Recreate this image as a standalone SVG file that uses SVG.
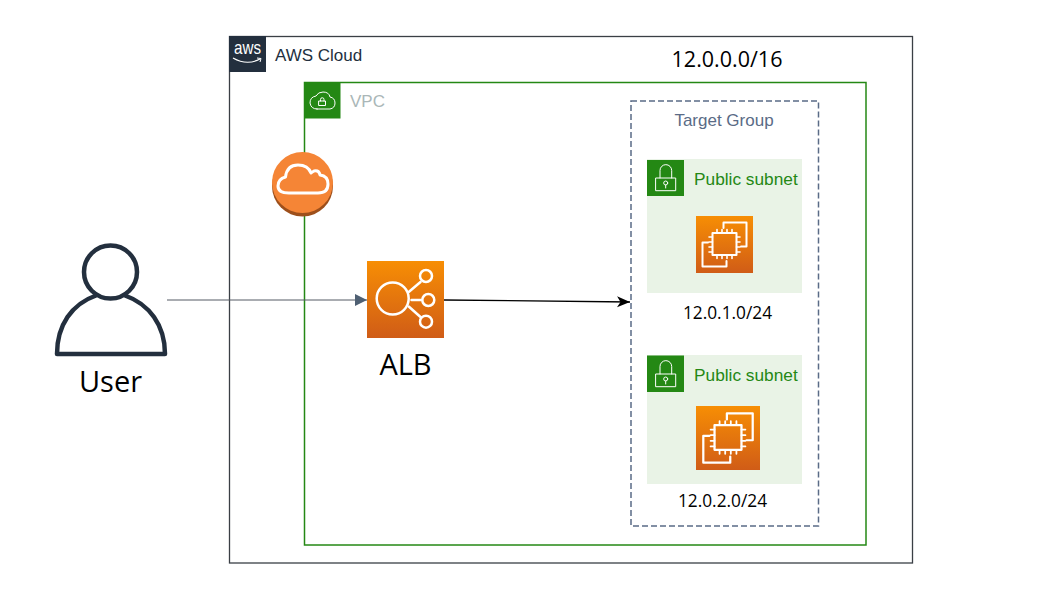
<svg xmlns="http://www.w3.org/2000/svg" width="1041" height="600" viewBox="0 0 1041 600">
<style>
.o{font-family:"Open Sans","Noto Sans",sans-serif;fill:#000}
.l{font-family:"Liberation Sans",Arial,sans-serif}
.w{fill:none;stroke:#fff;stroke-linejoin:round;stroke-linecap:round}
.tile{fill:#248814}
.sub{fill:#e9f3e6}
.gt{fill:#248814;font-size:17.300px}
</style>
<defs>
<linearGradient id="og" x1="0" y1="0" x2="0" y2="1"><stop offset="0" stop-color="#f78e04"/><stop offset="1" stop-color="#d05c17"/></linearGradient>
<g id="chip" class="w">
<rect x="16.500" y="17" width="24" height="22" stroke-width="2"/>
<path d="M21 17v-3.500M26 17v-3.500M31 17v-3.500M36 17v-3.500M21 39v3.500M26 39v3.500M31 39v3.500M36 39v3.500M16.500 21h-3.500M16.500 26h-3.500M16.500 31h-3.500M16.500 36h-3.500M40.500 21h3.500M40.500 26h3.500M40.500 31h3.500M40.500 36h3.500" stroke-width="1.600"/>
<path d="M27.500 12V6.500H50.500V30.500H45" stroke-width="2"/>
<path d="M12 26.500H6.500V50.500H30.500V45" stroke-width="2"/>
</g>
<g id="lock" class="w" stroke-width="1">
<rect x="9" y="18" width="19.700" height="12.700"/>
<path d="M13 18V10.500a5.850 5.850 0 0 1 11.700 0V18"/>
<circle cx="18.700" cy="23" r="2"/>
<path d="M18.700 25V28"/>
</g>
<marker id="ah" markerWidth="13" markerHeight="12" refX="12" refY="6" orient="auto" markerUnits="userSpaceOnUse"><path d="M0 0L12 6L0 12Z" fill="#4f6073"/></marker>
<marker id="ab" markerWidth="13" markerHeight="12" refX="13" refY="6" orient="auto" markerUnits="userSpaceOnUse"><path d="M0 0.500L13 6L0 11.500L3.500 6Z" fill="#000"/></marker>
</defs>

<g id="aws-cloud">
<rect x="229.500" y="36.500" width="683" height="526.500" fill="#fff" stroke="#3a3f45" stroke-width="1.300"/>
<rect x="229" y="36" width="37" height="36" fill="#232f3e"/>
<text x="234" y="54" class="l" font-size="19" textLength="27" lengthAdjust="spacingAndGlyphs" fill="#fff">aws</text>
<path d="M233 58Q247 66 260 59" fill="none" stroke="#fff" stroke-width="1.200"/>
<path d="M257 58L261 58.500L260 62" fill="none" stroke="#fff" stroke-width="1"/>
<text x="275" y="61" class="l" font-size="17" fill="#232f3e">AWS Cloud</text>
</g>

<g id="vpc">
<rect x="304.500" y="82.500" width="561.500" height="462.500" fill="none" stroke="#248814" stroke-width="1.500"/>
<rect class="tile" x="304" y="82" width="36.500" height="36.500"/>
<path class="w" stroke-width="1" d="M317 109H330Q335 108 335 103Q335 98 330 97Q329 92 323 92Q318 92 316 96Q310 97 310 103Q311 109 317 109Z"/>
<rect x="319" y="101" width="6.500" height="4.500" class="w" stroke-width="1"/>
<path class="w" stroke-width="1" d="M320.500 101V99.500a1.750 1.750 0 0 1 3.500 0V101"/>
<text x="350" y="107" class="l" font-size="17" fill="#aab7b8">VPC</text>
</g>

<g id="internet-gateway">
<circle cx="302.500" cy="186" r="30.500" fill="#9d4f1b"/>
<circle cx="302.500" cy="182.500" r="30.500" fill="#f58536"/>
<path class="w" stroke-width="3" d="M289 193H318Q328 193 328 184Q328 176 320 175Q319 170 314 171Q312 172 311 173Q308 165 298 165Q287 165 285.500 177Q278 179 278 186Q278 193 289 193Z"/>
</g>

<g id="user">
<circle cx="110.500" cy="272" r="26.500" fill="#fff" stroke="#232f3e" stroke-width="4.500"/>
<path d="M57 354C57 325 72 304 96 295.500M125 295.500C149 304 165 325 165 354H57" fill="none" stroke="#232f3e" stroke-width="4.500" stroke-linejoin="round" stroke-linecap="round"/>
<text x="110.500" y="392" text-anchor="middle" class="o" font-size="29">User</text>
</g>

<g id="alb">
<rect x="367" y="261" width="77" height="77" fill="url(#og)"/>
<g class="w" stroke-width="2.500">
<circle cx="392.700" cy="298.500" r="16"/>
<circle cx="426" cy="276" r="6"/>
<circle cx="428.300" cy="300" r="6"/>
<circle cx="426" cy="321.700" r="6"/>
<path d="M409 291.700L420.500 282M411.500 300H422M409 306.700L420.500 317"/>
</g>
<text x="405.500" y="375" text-anchor="middle" class="o" font-size="29">ALB</text>
</g>

<g id="cidr-vpc"><text x="727" y="67" text-anchor="middle" class="o" font-size="21.500">12.0.0.0/16</text></g>

<g id="target-group">
<rect x="631" y="101" width="187.500" height="425" fill="none" stroke="#5a6b86" stroke-width="1.500" stroke-dasharray="6 3"/>
<text x="724" y="126" text-anchor="middle" class="l" font-size="17" fill="#5a6b86">Target Group</text>
</g>

<g id="subnet-1">
<rect class="sub" x="647" y="159" width="155" height="134"/>
<rect class="tile" x="647" y="160" width="37" height="36"/>
<use href="#lock" x="647" y="160"/>
<text x="694" y="185" class="l gt">Public subnet</text>
<rect x="696" y="216" width="57" height="57" fill="url(#og)"/>
<use href="#chip" x="696" y="216"/>
<text x="727.500" y="319" text-anchor="middle" class="o" font-size="17.300">12.0.1.0/24</text>
</g>

<g id="subnet-2">
<rect class="sub" x="647" y="355" width="155" height="129"/>
<rect class="tile" x="647" y="355.500" width="37" height="36.500"/>
<use href="#lock" x="647" y="356"/>
<text x="694" y="381" class="l gt">Public subnet</text>
<rect x="696" y="406" width="64" height="64" fill="url(#og)"/>
<use href="#chip" transform="translate(696 406) scale(1.123)"/>
<text x="722.500" y="506.500" text-anchor="middle" class="o" font-size="17.300">12.0.2.0/24</text>
</g>

<g id="connectors" fill="none">
<path d="M167 300H367" stroke="#545b64" stroke-width="1" marker-end="url(#ah)"/>
<path d="M444 300L630 302" stroke="#000" stroke-width="1.300" marker-end="url(#ab)"/>
</g>
</svg>
